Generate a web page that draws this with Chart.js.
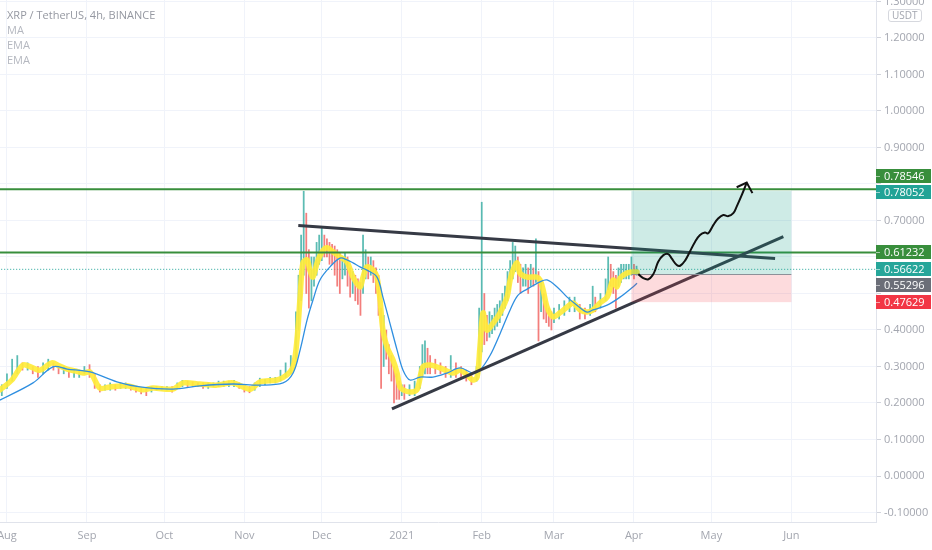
<!DOCTYPE html>
<html lang="en">
<head>
  <meta charset="UTF-8" />
  <title>XRP / TetherUS, 4h, BINANCE</title>
  <style>
    html, body {
      margin: 0;
      padding: 0;
      background: #fff;
    }

    #wrap {
      position: relative;
      width: 932px;
      height: 550px;
      overflow: hidden;
    }

    canvas {
      display: block;
    }

    #legend {
      position: absolute;
      left: 7px;
      top: 7px;
      font-family: 'Open Sans', sans-serif;
      font-size: 11px;
      line-height: 15px;
      color: #b5b8c0;
      pointer-events: none;
    }

    #legend .title {
      color: #9598a1;
    }

    #unit {
      position: absolute;
      left: 888px;
      top: 9px;
      padding: 0 3px;
      font-family: 'Open Sans', sans-serif;
      font-size: 10px;
      line-height: 11px;
      color: #a3a6af;
      background: #fff;
      border: 1px solid #d6d8de;
      border-radius: 3px;
    }
  </style>
</head>
<body>

<div id="wrap">
  <canvas id="chart" width="932" height="550"></canvas>
  <div id="legend">
    <div class="title">XRP / TetherUS, 4h, BINANCE</div>
    <div>MA</div>
    <div>EMA</div>
    <div>EMA</div>
  </div>
  <div id="unit">USDT</div>
</div>

<script src="https://cdn.jsdelivr.net/npm/chart.js"></script>

<script>
  // time axis is in days since 1 Aug 2020
  const monthDays = [0, 31, 61, 92, 122, 153, 184, 212, 243, 273, 304];
  const monthLabels = ['Aug', 'Sep', 'Oct', 'Nov', 'Dec', '2021', 'Feb', 'Mar', 'Apr', 'May', 'Jun'];

  // candle ranges (low / high)
  const candleDay = [
    -2, 0, 2, 4, 6, 8, 10, 12, 14, 16,
    18, 20, 22, 24, 26, 28, 30, 32, 34, 36,
    38, 40, 42, 44, 46, 48, 50, 52, 54, 56,
    58, 60, 62, 64, 66, 68, 70, 72, 74, 76,
    78, 80, 82, 84, 86, 88, 90, 92, 94, 96,
    98, 100, 102, 104, 106, 108, 110, 112, 113, 114,
    115, 116, 117, 118, 119, 120, 121, 122, 123, 124,
    125, 126, 127, 128, 129, 130, 131, 132, 133, 134,
    135, 136, 137, 138, 139, 140, 141, 142, 143, 144,
    145, 146, 147, 148, 149, 150, 151, 152, 153, 154,
    156, 158, 160, 161, 162, 163, 164, 166, 168, 170,
    172, 174, 176, 178, 180, 182, 183, 184, 185, 186,
    187, 188, 189, 190, 191, 192, 193, 194, 195, 196,
    197, 198, 199, 200, 201, 202, 203, 204, 205, 206,
    207, 208, 209, 210, 211, 212, 214, 216, 218, 220,
    222, 224, 226, 227, 228, 230, 232, 233, 234, 235,
    236, 237, 238, 239, 240, 241, 242, 243, 244
  ];
  const candleLow = [
    0.22, 0.24, 0.26, 0.28, 0.29, 0.29, 0.28, 0.27, 0.28, 0.29,
    0.29, 0.28, 0.28, 0.27, 0.27, 0.27, 0.28, 0.27, 0.24, 0.23,
    0.235, 0.235, 0.235, 0.24, 0.24, 0.235, 0.23, 0.225, 0.22, 0.23,
    0.235, 0.235, 0.235, 0.23, 0.24, 0.245, 0.245, 0.245, 0.245, 0.24,
    0.24, 0.245, 0.245, 0.245, 0.245, 0.245, 0.24, 0.23, 0.228, 0.235,
    0.245, 0.25, 0.255, 0.255, 0.26, 0.27, 0.28, 0.32, 0.40, 0.48,
    0.55, 0.50, 0.46, 0.48, 0.52, 0.55, 0.58, 0.59, 0.60, 0.60,
    0.58, 0.58, 0.55, 0.52, 0.50, 0.54, 0.55, 0.52, 0.49, 0.50,
    0.48, 0.47, 0.44, 0.50, 0.54, 0.54, 0.55, 0.53, 0.50, 0.44,
    0.24, 0.30, 0.32, 0.28, 0.26, 0.20, 0.21, 0.21, 0.22, 0.21,
    0.22, 0.22, 0.24, 0.27, 0.28, 0.28, 0.28, 0.28, 0.28, 0.27,
    0.27, 0.27, 0.27, 0.26, 0.25, 0.26, 0.28, 0.34, 0.36, 0.37,
    0.38, 0.39, 0.40, 0.41, 0.42, 0.44, 0.46, 0.48, 0.51, 0.54,
    0.56, 0.53, 0.50, 0.52, 0.52, 0.50, 0.52, 0.52, 0.53, 0.37,
    0.45, 0.43, 0.42, 0.41, 0.40, 0.42, 0.43, 0.44, 0.45, 0.45,
    0.43, 0.43, 0.44, 0.45, 0.45, 0.46, 0.48, 0.51, 0.52, 0.50,
    0.46, 0.52, 0.53, 0.54, 0.54, 0.54, 0.55, 0.54, 0.55
  ];
  const candleHigh = [
    0.25, 0.28, 0.32, 0.33, 0.31, 0.31, 0.30, 0.30, 0.31, 0.32,
    0.31, 0.30, 0.30, 0.29, 0.29, 0.29, 0.30, 0.305, 0.28, 0.25,
    0.25, 0.255, 0.25, 0.255, 0.255, 0.25, 0.245, 0.24, 0.24, 0.245,
    0.245, 0.245, 0.245, 0.245, 0.255, 0.262, 0.26, 0.258, 0.255, 0.255,
    0.255, 0.255, 0.26, 0.26, 0.26, 0.262, 0.255, 0.245, 0.245, 0.255,
    0.268, 0.265, 0.27, 0.27, 0.29, 0.31, 0.33, 0.45, 0.55, 0.66,
    0.78, 0.72, 0.62, 0.60, 0.60, 0.64, 0.66, 0.68, 0.66, 0.65,
    0.64, 0.635, 0.63, 0.62, 0.61, 0.60, 0.61, 0.60, 0.57, 0.56,
    0.55, 0.54, 0.53, 0.66, 0.62, 0.60, 0.60, 0.59, 0.57, 0.55,
    0.46, 0.44, 0.40, 0.36, 0.33, 0.30, 0.28, 0.26, 0.25, 0.25,
    0.25, 0.26, 0.30, 0.36, 0.37, 0.35, 0.33, 0.32, 0.31, 0.30,
    0.33, 0.31, 0.30, 0.29, 0.28, 0.30, 0.46, 0.75, 0.50, 0.44,
    0.45, 0.44, 0.46, 0.47, 0.48, 0.50, 0.52, 0.56, 0.59, 0.64,
    0.63, 0.60, 0.58, 0.57, 0.58, 0.57, 0.58, 0.57, 0.65, 0.56,
    0.53, 0.50, 0.48, 0.46, 0.45, 0.46, 0.47, 0.48, 0.49, 0.49,
    0.47, 0.46, 0.47, 0.52, 0.49, 0.50, 0.54, 0.60, 0.58, 0.56,
    0.55, 0.57, 0.58, 0.58, 0.58, 0.58, 0.60, 0.58, 0.575
  ];

  // thick yellow moving average
  const maDay = [
    -2.7, 1.9, 6.2, 10.1, 12.8, 17.4, 20.5, 23.3, 26.4, 29.5,
    32.2, 36.0, 39.9, 46.5, 52.7, 56.6, 64.3, 68.2, 74.8, 81.4,
    87.6, 94.2, 98.1, 104.7, 108.5, 110.9, 112.4, 113.6, 114.7, 116.3,
    117.4, 118.6, 120.2, 122.1, 124.0, 126.4, 129.1, 131.8, 134.1, 136.8,
    138.0, 139.5, 141.9, 143.4, 144.6, 145.7, 147.3, 149.6, 151.2, 152.3,
    153.5, 156.2, 158.9, 161.2, 164.0, 167.8, 172.9, 175.6, 178.3, 180.6,
    182.2, 183.3, 184.5, 186.0, 188.4, 191.1, 193.8, 195.0, 196.1, 197.7,
    198.8, 201.6, 205.4, 206.6, 207.8, 209.3, 211.6, 214.3, 217.1, 219.4,
    222.1, 224.8, 227.1, 229.8, 232.6, 234.9, 236.4, 237.6, 240.3, 242.6,
    244.2
  ];
  const maPrice = [
    0.236, 0.263, 0.304, 0.296, 0.290, 0.310, 0.301, 0.293, 0.288, 0.282,
    0.285, 0.241, 0.244, 0.247, 0.236, 0.241, 0.238, 0.255, 0.252, 0.249,
    0.255, 0.238, 0.258, 0.263, 0.277, 0.299, 0.373, 0.490, 0.584, 0.592,
    0.564, 0.545, 0.584, 0.614, 0.625, 0.614, 0.600, 0.586, 0.545, 0.518,
    0.545, 0.573, 0.564, 0.545, 0.482, 0.400, 0.353, 0.318, 0.282, 0.244,
    0.236, 0.230, 0.236, 0.299, 0.304, 0.296, 0.282, 0.290, 0.277, 0.263,
    0.271, 0.353, 0.447, 0.400, 0.419, 0.447, 0.490, 0.537, 0.564, 0.584,
    0.556, 0.545, 0.545, 0.537, 0.510, 0.463, 0.436, 0.447, 0.463, 0.474,
    0.455, 0.449, 0.455, 0.474, 0.490, 0.537, 0.518, 0.542, 0.556, 0.559,
    0.559
  ];

  // thin blue EMA
  const emaDay = [
    -2.7, 10.1, 17.8, 23.3, 32.2, 42.6, 51.6, 64.3, 74.8, 87.6,
    98.1, 107.0, 110.9, 113.6, 116.3, 118.6, 121.3, 125.2, 129.1, 131.8,
    134.1, 136.8, 139.5, 143.4, 145.7, 148.4, 151.2, 153.5, 156.2, 160.1,
    165.1, 170.5, 175.6, 180.6, 183.3, 187.2, 191.1, 195.0, 198.0, 201.6,
    206.6, 209.3, 213.2, 217.1, 220.9, 224.8, 227.1, 232.6, 237.6, 242.6,
    244.2
  ];
  const emaPrice = [
    0.208, 0.255, 0.299, 0.293, 0.285, 0.258, 0.244, 0.238, 0.247, 0.252,
    0.249, 0.255, 0.282, 0.345, 0.427, 0.482, 0.537, 0.573, 0.597, 0.592,
    0.584, 0.573, 0.564, 0.545, 0.490, 0.419, 0.345, 0.290, 0.263, 0.271,
    0.271, 0.282, 0.296, 0.282, 0.290, 0.330, 0.390, 0.455, 0.495, 0.512,
    0.532, 0.537, 0.518, 0.490, 0.468, 0.449, 0.455, 0.468, 0.490, 0.518,
    0.528
  ];

  // drawings
  const trendDownDay = [112.9, 297.7];
  const trendDownPrice = [0.686, 0.596];
  const trendUpDay = [149.2, 300.9];
  const trendUpPrice = [0.184, 0.656];
  const levelPrices = [0.78546, 0.61232];
  const lastPrice = 0.56622;

  const posStartDay = 242;
  const posEndDay = 304;
  const posTarget = 0.78052;
  const posEntry = 0.55296;
  const posStop = 0.47629;

  const arrowDay = [
    244.7, 246.6, 248.6, 250.3, 251.2, 252.4, 254.4, 256.3, 257.6, 259.6,
    260.9, 262.8, 264.7, 266.7, 268.6, 270.5, 271.8, 273.8, 275.7, 277.6,
    279.6, 281.5, 282.8, 284.8, 286.7
  ];
  const arrowPrice = [
    0.553, 0.542, 0.539, 0.551, 0.564, 0.587, 0.605, 0.608, 0.596, 0.578,
    0.576, 0.590, 0.615, 0.642, 0.660, 0.667, 0.665, 0.688, 0.706, 0.715,
    0.712, 0.720, 0.738, 0.770, 0.804
  ];
  const arrowHeadDay = [282.8, 286.7, 288.9];
  const arrowHeadPrice = [0.791, 0.804, 0.775];

  const tagPrices = [0.78546, 0.78052, 0.61232, 0.56622, 0.55296, 0.47629];

  const xMin = -2.7;
  const xMax = 336.8;

  function pts(xs, ys) {
    return xs.map((x, i) => ({ x: x, y: ys[i] }));
  }

  function flat(p) {
    return [{ x: xMin - 10, y: p }, { x: xMax + 10, y: p }];
  }

  const candleColors = candleDay.map((d, i) => {
    if (i === 0) return 'rgba(38, 166, 154, 0.75)';
    const mid = candleLow[i] + candleHigh[i];
    const prev = candleLow[i - 1] + candleHigh[i - 1];
    return mid >= prev ? 'rgba(38, 166, 154, 0.75)' : 'rgba(239, 83, 80, 0.75)';
  });

  // label colours and small shifts so stacked tags do not overlap
  const tagStyles = [
    { color: '#388e3c', shift: -13 },
    { color: '#22a396', shift: 1 },
    { color: '#388e3c', shift: 0 },
    { color: '#26a69a', shift: 0 },
    { color: '#6b6e78', shift: 11 },
    { color: '#f23645', shift: 0 }
  ];

  const positionBox = {
    id: 'positionBox',
    afterDatasetDraw(chart, args) {
      if (chart.data.datasets[args.index].label !== 'trend up') return;
      const { ctx, scales: { x, y } } = chart;
      const x0 = x.getPixelForValue(posStartDay);
      const x1 = x.getPixelForValue(posEndDay);
      const yT = y.getPixelForValue(posTarget);
      const yE = y.getPixelForValue(posEntry);
      const yS = y.getPixelForValue(posStop);
      ctx.save();
      ctx.fillStyle = 'rgba(8, 153, 129, 0.2)';
      ctx.fillRect(x0, yT, x1 - x0, yE - yT);
      ctx.fillStyle = 'rgba(242, 54, 69, 0.18)';
      ctx.fillRect(x0, yE, x1 - x0, yS - yE);
      ctx.strokeStyle = '#8d9098';
      ctx.lineWidth = 1;
      ctx.beginPath();
      ctx.moveTo(x0, Math.round(yE) + 0.5);
      ctx.lineTo(x1, Math.round(yE) + 0.5);
      ctx.stroke();
      ctx.restore();
    }
  };

  const priceTags = {
    id: 'priceTags',
    afterDraw(chart) {
      const { ctx, scales: { y }, chartArea } = chart;
      ctx.save();
      ctx.font = "11px 'Open Sans', sans-serif";
      ctx.textBaseline = 'middle';
      tagPrices.forEach((p, i) => {
        const st = tagStyles[i];
        const cy = Math.round(y.getPixelForValue(p)) + st.shift;
        ctx.fillStyle = st.color;
        ctx.fillRect(chartArea.right, cy - 7, chart.width - chartArea.right - 1, 14);
        ctx.fillStyle = 'rgba(255,255,255,0.55)';
        ctx.fillRect(chartArea.right, cy, 4, 1);
        ctx.fillStyle = '#fff';
        ctx.fillText(p.toFixed(5), chartArea.right + 8, cy + 0.5);
      });
      ctx.restore();
    }
  };

  Chart.defaults.font.family = "'Open Sans', sans-serif";

  const ctx = document.getElementById('chart').getContext('2d');
  new Chart(ctx, {
    type: 'line',
    data: {
      datasets: [
        {
          label: 'arrow',
          data: pts(arrowDay, arrowPrice),
          borderColor: '#111',
          borderWidth: 2,
          tension: 0.4,
          pointRadius: 0,
          order: 1
        },
        {
          label: 'arrow head',
          data: pts(arrowHeadDay, arrowHeadPrice),
          borderColor: '#111',
          borderWidth: 2,
          tension: 0,
          pointRadius: 0,
          order: 1
        },
        {
          label: 'trend up',
          data: pts(trendUpDay, trendUpPrice),
          borderColor: '#363a45',
          borderWidth: 3,
          pointRadius: 0,
          order: 2
        },
        {
          label: 'trend down',
          data: pts(trendDownDay, trendDownPrice),
          borderColor: '#363a45',
          borderWidth: 3,
          pointRadius: 0,
          order: 2.5
        },
        {
          label: 'level high',
          data: flat(levelPrices[0]),
          borderColor: '#388e3c',
          borderWidth: 2,
          pointRadius: 0,
          order: 3
        },
        {
          label: 'level low',
          data: flat(levelPrices[1]),
          borderColor: '#388e3c',
          borderWidth: 2,
          pointRadius: 0,
          order: 3
        },
        {
          label: 'EMA',
          data: pts(emaDay, emaPrice),
          borderColor: '#2f8fe0',
          borderWidth: 1.3,
          tension: 0.35,
          pointRadius: 0,
          order: 4
        },
        {
          label: 'MA',
          data: pts(maDay, maPrice),
          borderColor: 'rgba(255, 235, 59, 0.92)',
          borderWidth: 5.5,
          tension: 0.3,
          pointRadius: 0,
          borderCapStyle: 'round',
          borderJoinStyle: 'round',
          order: 5
        },
        {
          type: 'bar',
          label: 'candles',
          data: candleDay.map((d, i) => ({ x: d, y: [candleLow[i], candleHigh[i]] })),
          backgroundColor: candleColors,
          barThickness: 1.1,
          grouped: false,
          borderWidth: 0,
          order: 6
        },
        {
          label: 'last price',
          data: flat(lastPrice),
          borderColor: '#26a69a',
          borderWidth: 1,
          borderDash: [1, 2],
          pointRadius: 0,
          order: 7
        }
      ]
    },
    options: {
      responsive: false,
      animation: false,
      events: [],
      layout: { padding: 0 },
      plugins: {
        legend: { display: false },
        tooltip: { enabled: false }
      },
      scales: {
        x: {
          type: 'linear',
          min: xMin,
          max: xMax,
          offset: false,
          afterBuildTicks: (s) => { s.ticks = monthDays.map(v => ({ value: v })); },
          afterFit: (s) => { s.height = 28; s.paddingLeft = 0; s.paddingRight = 0; },
          grid: { color: '#f0f3fa', drawTicks: false, offset: false },
          border: { color: '#e0e3eb' },
          ticks: {
            callback: (v) => monthLabels[monthDays.indexOf(v)],
            color: '#a3a6af',
            font: { size: 11 },
            padding: 7,
            maxRotation: 0,
            autoSkip: false
          }
        },
        y: {
          type: 'linear',
          position: 'right',
          min: -0.126,
          max: 1.304,
          afterFit: (s) => { s.width = 56; s.paddingTop = 0; s.paddingBottom = 0; },
          grid: { color: '#f0f3fa', tickLength: 5, tickColor: '#d1d4dc' },
          border: { color: '#e0e3eb' },
          ticks: {
            stepSize: 0.1,
            includeBounds: false,
            color: '#a3a6af',
            font: { size: 11 },
            padding: 3,
            callback: (v) => tagPrices.some(t => Math.abs(t - v) < 0.03) ? '' : v.toFixed(5)
          }
        }
      }
    },
    plugins: [positionBox, priceTags]
  });
</script>

</body>
</html>
